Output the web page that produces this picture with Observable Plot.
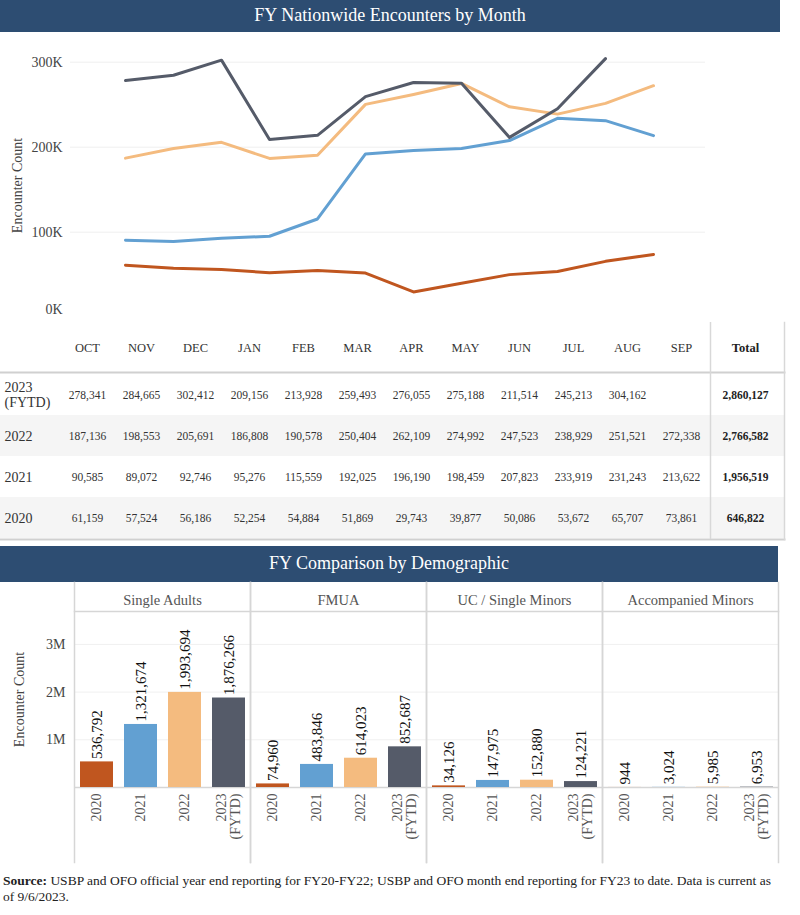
<!DOCTYPE html>
<html>
<head>
<meta charset="utf-8">
<script src="https://cdn.jsdelivr.net/npm/d3@7"></script>
<script src="https://cdn.jsdelivr.net/npm/@observablehq/plot@0.6"></script>
<style>
  body { margin: 0; background: #fff; font-family: "Liberation Serif", "Times New Roman", serif; }
  #root { position: relative; width: 800px; height: 915px; overflow: hidden; background: #fff; }
  .titlebar { position: absolute; left: 0; background: #2d4d72; color: #fff; font-size: 18px; text-align: center; font-family: "Liberation Serif", serif; }
  .abs { position: absolute; left: 0; }
  #source { position: absolute; left: 3px; top: 873px; width: 796px; font-family: "Liberation Serif", serif; font-size: 13.5px; line-height: 16px; color: #222; }
  svg { overflow: visible; }
</style>
</head>
<body>
<div id="root">
  <div class="titlebar" style="top:0;width:780px;height:32px;line-height:31px;">FY Nationwide Encounters by Month</div>
  <div id="lines" class="abs" style="top:32px;"></div>
  <div id="table" class="abs" style="top:322px;"></div>
  <div class="titlebar" style="top:546px;width:778px;height:36px;line-height:35px;">FY Comparison by Demographic</div>
  <div id="bars" class="abs" style="top:582px;"></div>
  <div id="source"><b>Source:</b> USBP and OFO official year end reporting for FY20-FY22; USBP and OFO month end reporting for FY23 to date. Data is current as<br>of 9/6/2023.</div>
</div>
<script>
// ---------- data ----------
const months = ["OCT","NOV","DEC","JAN","FEB","MAR","APR","MAY","JUN","JUL","AUG","SEP"];
const years = ["2020","2021","2022","2023"];
const yearLabels = ["2020","2021","2022","2023\n(FYTD)"];
const yearColors = ["#c0561f","#62a0d2","#f4bb7f","#555b69"];

const v2023 = [278341,284665,302412,209156,213928,259493,276055,275188,211514,245213,304162,null];
const v2022 = [187136,198553,205691,186808,190578,250404,262109,274992,247523,238929,251521,272338];
const v2021 = [90585,89072,92746,95276,115559,192025,196190,198459,207823,233919,231243,213622];
const v2020 = [61159,57524,56186,52254,54884,51869,29743,39877,50086,53672,65707,73861];

const tableRows = ["2023\n(FYTD)","2022","2021","2020"];
const totals = [2860127,2766582,1956519,646822];
const stripedRows = ["2022","2020"];

const demographics = ["Single Adults","FMUA","UC / Single Minors","Accompanied Minors"];
const demo2020 = [536792,74960,34126,944];
const demo2021 = [1321674,483846,147975,3024];
const demo2022 = [1993694,614023,152880,5985];
const demo2023 = [1876266,852687,124221,6953];

const lineTicks = [100000,200000,300000];
const barTicks = [1000000,2000000,3000000];

// ---------- derived tables ----------
const fmt = d3.format(",");
const seriesByYear = [v2020, v2021, v2022, v2023];
const lineData = [];
years.forEach((y, yi) => months.forEach((m, mi) => {
  const v = seriesByYear[yi][mi];
  if (v != null) lineData.push({year: y, month: m, value: v});
}));

const rowValues = [v2023, v2022, v2021, v2020];
const cells = [];
tableRows.forEach((r, ri) => months.forEach((m, mi) => {
  const v = rowValues[ri][mi];
  if (v != null) cells.push({row: r, col: m, value: v});
}));
const totalCells = tableRows.map((r, ri) => ({row: r, col: "Total", value: totals[ri]}));

const demoByYear = [demo2020, demo2021, demo2022, demo2023];
const demoData = [];
demographics.forEach((g, gi) => yearLabels.forEach((y, yi) => {
  demoData.push({group: g, year: y, value: demoByYear[yi][gi]});
}));

const font = "Liberation Serif, Times New Roman, serif";

// ---------- line chart ----------
const lineChart = Plot.plot({
  width: 800, height: 290,
  marginTop: 16, marginBottom: 0, marginLeft: 70, marginRight: 95,
  style: {fontFamily: font, fontSize: "15px", color: "#333", background: "transparent", overflow: "visible"},
  x: {type: "point", domain: months, range: [96, 682], axis: null},
  y: {domain: [0, 300000], range: [284.7, 29.7], axis: null},
  color: {domain: years, range: yearColors},
  marks: [
    Plot.ruleY(lineTicks, {stroke: "#efefef", strokeWidth: 1}),
    Plot.axisY(lineTicks, {tickSize: 0, tickPadding: 8, tickFormat: d => d / 1000 + "K",
      fontSize: 14, fill: "#444", label: "Encounter Count", labelAnchor: "center",
      labelOffset: 58, labelArrow: "none"}),
    Plot.axisY([0], {tickSize: 0, tickPadding: 8, tickFormat: d => d / 1000 + "K",
      fontSize: 14, fill: "#444", dy: -8, label: null}),
    Plot.line(lineData, {x: "month", y: "value", z: "year", stroke: "year",
      strokeWidth: 3, strokeLinejoin: "round", strokeLinecap: "round"})
  ]
});
document.getElementById("lines").appendChild(lineChart);

// ---------- table ----------
const tableChart = Plot.plot({
  width: 800, height: 218,
  marginTop: 50, marginBottom: 1, marginLeft: 0, marginRight: 16,
  style: {fontFamily: font, background: "transparent", overflow: "visible"},
  x: {type: "band", domain: [...months, "Total"], range: [56, 765.6], padding: 0, axis: null},
  y: {type: "band", domain: tableRows, range: [50, 217], padding: 0, axis: null},
  marks: [
    Plot.cell(stripedRows, {y: d => d, fill: "#f5f5f5", inset: 0}),
    Plot.frame({anchor: "top", stroke: "#d0d0d0", strokeWidth: 2}),
    Plot.frame({anchor: "bottom", stroke: "#d0d0d0", strokeWidth: 2}),
    Plot.frame({anchor: "right", stroke: "#d8d8d8", strokeWidth: 1.5, insetTop: -50}),
    Plot.ruleX(["Total"], {dx: -25, stroke: "#d8d8d8", strokeWidth: 1.5, insetTop: -50}),
    Plot.text(months, {x: d => d, frameAnchor: "top", lineAnchor: "middle", dy: -25, fontSize: 12.5, fill: "#333"}),
    Plot.text(["Total"], {x: d => d, frameAnchor: "top", lineAnchor: "middle", dy: -25, dx: 10, fontSize: 12.5, fontWeight: "bold", fill: "#222"}),
    Plot.text(tableRows, {y: d => d, frameAnchor: "left", textAnchor: "start", lineAnchor: "middle", dx: 4, fontSize: 14, fill: "#333", lineHeight: 1.05}),
    Plot.text(cells, {x: "col", y: "row", text: d => fmt(d.value), fontSize: 11.5, fill: "#333"}),
    Plot.text(totalCells, {x: "col", y: "row", text: d => fmt(d.value), dx: 10, fontSize: 11.5, fontWeight: "bold", fill: "#222"})
  ]
});
document.getElementById("table").appendChild(tableChart);

// ---------- demographic bars ----------
const barChart = Plot.plot({
  width: 800, height: 282,
  marginTop: 29, marginBottom: 77, marginLeft: 72, marginRight: 21,
  style: {fontFamily: font, fontSize: "15px", color: "#333", background: "transparent", overflow: "visible"},
  fx: {domain: demographics, padding: 0, label: null, axis: null},
  x: {domain: yearLabels, paddingInner: 0.25, paddingOuter: 0.125, label: null, axis: null},
  y: {domain: [0, 3690000], axis: null},
  color: {domain: yearLabels, range: yearColors},
  marks: [
    Plot.ruleY(barTicks, {stroke: "#f0f0f0"}),
    Plot.frame({anchor: "left", stroke: "#d6d6d6", strokeWidth: 1.5, insetTop: -29, insetBottom: -75}),
    Plot.frame({anchor: "right", stroke: "#d6d6d6", strokeWidth: 1.5, insetTop: -29, insetBottom: -75}),
    Plot.frame({anchor: "top", stroke: "#d6d6d6", strokeWidth: 1.5}),
    Plot.ruleY([0], {stroke: "#d6d6d6", strokeWidth: 1.5}),
    Plot.barY(demoData, {fx: "group", x: "year", y: "value", fill: "year"}),
    Plot.text(demoData, {fx: "group", x: "year", y: "value", text: d => fmt(d.value),
      rotate: -90, textAnchor: "start", dy: -3, fontSize: 15, fill: "#111"}),
    Plot.axisFx({anchor: "top", tickSize: 0, tickPadding: 7, fontSize: 14.5, fill: "#555", label: null}),
    Plot.axisX({anchor: "bottom", tickRotate: -90, tickSize: 0, tickPadding: 6, fontSize: 14, fill: "#555", label: null}),
    Plot.axisY(barTicks, {tickSize: 0, tickPadding: 9, tickFormat: d => d / 1e6 + "M",
      fontSize: 14, fill: "#444", label: "Encounter Count", labelAnchor: "center",
      labelOffset: 60, labelArrow: "none"})
  ]
});
document.getElementById("bars").appendChild(barChart);
</script>
</body>
</html>
